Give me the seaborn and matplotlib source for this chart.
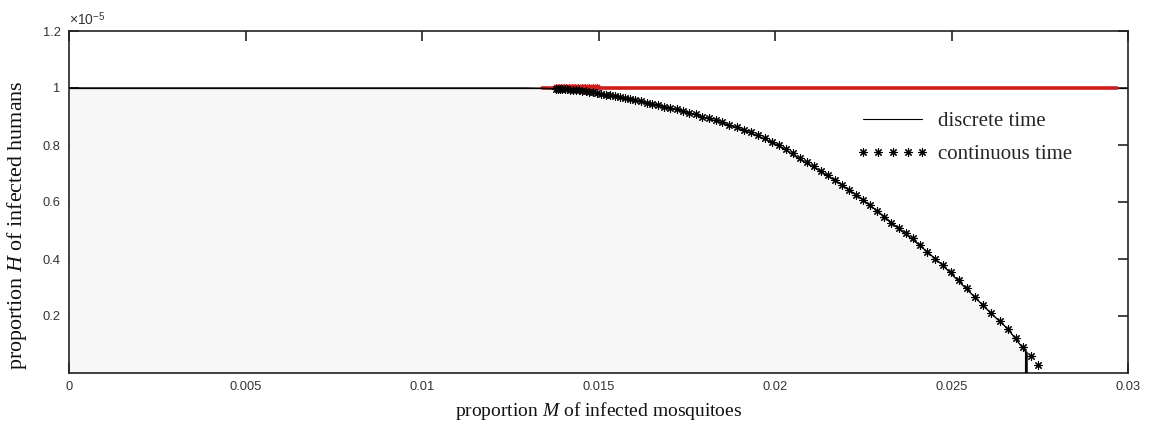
import numpy as np
import pandas as pd
import matplotlib
matplotlib.use("Agg")
import matplotlib.pyplot as plt
from matplotlib.lines import Line2D
import seaborn as sns

# ---------------- data (M in raw units, H in units of 1e-5) ----------------
disc_M = [0.0, 0.0129, 0.0134, 0.0138, 0.0145, 0.0150, 0.0156, 0.0162, 0.0167,
          0.0172, 0.0176, 0.0182, 0.0188, 0.0193, 0.0198, 0.0202, 0.0207, 0.0212,
          0.0218, 0.0224, 0.0230, 0.0235, 0.0241, 0.02475, 0.0254, 0.0261, 0.0266,
          0.0271, 0.0271]
disc_H = [1.0, 1.0, 0.999, 0.997, 0.991, 0.981, 0.967, 0.952, 0.939,
          0.924, 0.912, 0.889, 0.866, 0.843, 0.816, 0.791, 0.750, 0.714,
          0.668, 0.616, 0.558, 0.507, 0.448, 0.378, 0.298, 0.212, 0.154,
          0.075, 0.0]

cont_M = [0.01380, 0.01386, 0.01392, 0.01398, 0.01405, 0.01412, 0.01420, 0.01428,
          0.01436, 0.01445, 0.01454, 0.01464, 0.01474, 0.01485, 0.01496, 0.01508,
          0.01520, 0.01533, 0.01546, 0.01560, 0.01574, 0.01589, 0.01604, 0.01620,
          0.01636, 0.01652, 0.01669, 0.01686, 0.01703, 0.01721, 0.01739, 0.01757,
          0.01775, 0.01794, 0.01813, 0.01832, 0.01851, 0.01871, 0.01891, 0.01911,
          0.01931, 0.01951, 0.01971, 0.01991, 0.02010, 0.02030, 0.02050, 0.02070,
          0.02090, 0.02110, 0.02130, 0.02150, 0.02170, 0.02190, 0.02210, 0.02230,
          0.02250, 0.02270, 0.02290, 0.02310, 0.02330, 0.02350, 0.02370, 0.02390,
          0.02410, 0.02432, 0.02454, 0.02476, 0.02498, 0.02520, 0.02543, 0.02566,
          0.02589, 0.02612, 0.02636, 0.02660, 0.02682, 0.02703, 0.02724, 0.02745]
cont_H = [0.998, 0.998, 0.997, 0.997, 0.996, 0.995, 0.994, 0.993,
          0.993, 0.992, 0.991, 0.989, 0.987, 0.985, 0.983, 0.980,
          0.977, 0.974, 0.971, 0.968, 0.964, 0.961, 0.957, 0.953,
          0.949, 0.945, 0.940, 0.935, 0.930, 0.925, 0.919, 0.914,
          0.908, 0.900, 0.893, 0.886, 0.879, 0.871, 0.863, 0.854,
          0.845, 0.834, 0.823, 0.811, 0.799, 0.786, 0.771, 0.755,
          0.740, 0.725, 0.709, 0.693, 0.677, 0.660, 0.643, 0.626,
          0.608, 0.590, 0.570, 0.549, 0.528, 0.509, 0.492, 0.472,
          0.450, 0.426, 0.401, 0.379, 0.353, 0.327, 0.297, 0.267,
          0.240, 0.212, 0.184, 0.156, 0.122, 0.090, 0.060, 0.028]

red_M = [0.0134, 0.0297]
red_H = [1.0, 1.0]
red_star_M = [0.01380, 0.01387, 0.01394, 0.01401, 0.01408, 0.01416, 0.01424, 0.01433,
              0.01442, 0.01452, 0.01462, 0.01473, 0.01485, 0.01497]
red_star_H = [1.003, 1.003, 1.003, 1.003, 1.003, 1.003, 1.003, 1.003,
              1.003, 1.003, 1.003, 1.003, 1.002, 1.002]

upper_H = 1.0
x_ticks = [0, 0.005, 0.01, 0.015, 0.02, 0.025, 0.03]
x_tick_labels = ["0", "0.005", "0.01", "0.015", "0.02", "0.025", "0.03"]
y_ticks = [0.2, 0.4, 0.6, 0.8, 1.0, 1.2]
y_tick_labels = ["0.2", "0.4", "0.6", "0.8", "1", "1.2"]

# ---------------- figure ----------------
sns.set_theme(style="white")
plt.rcParams["font.family"] = ["Liberation Sans", "DejaVu Sans"]
plt.rcParams["mathtext.fontset"] = "custom"
plt.rcParams["mathtext.rm"] = "Liberation Sans"
plt.rcParams["mathtext.it"] = "Liberation Serif:italic"

fig = plt.figure(figsize=(11.72, 4.38), dpi=100)
ax = fig.add_axes([69 / 1172, 65 / 438, (1128 - 69) / 1172, (373 - 31) / 438])

ax.set_xlim(0, 0.03)
ax.set_ylim(0, 1.2)
ax.set_axisbelow(True)

disc_df = pd.DataFrame({"M": disc_M, "H": disc_H})
cont_df = pd.DataFrame({"M": cont_M, "H": cont_H})

red = "#d01e1e"
star = (8, 2, 0)

# grey region under discrete curve
ax.fill_between(disc_df["M"], 0, disc_df["H"], color="#f7f7f7", zorder=1, linewidth=0)

# upper horizontal line at H = 1
ax.axhline(upper_H, color="black", linewidth=0.9, zorder=2)

# red series
sns.lineplot(x=red_M, y=red_H, ax=ax, color=red, linewidth=2.6,
             sort=False, estimator=None, zorder=3, legend=False)
sns.lineplot(x=red_star_M, y=red_star_H, ax=ax, color=red, linestyle="",
             marker=star, markersize=5, markeredgewidth=0.9,
             markeredgecolor=red, markerfacecolor=red,
             sort=False, estimator=None, zorder=3, legend=False)

# discrete time curve
sns.lineplot(data=disc_df, x="M", y="H", ax=ax, color="black", linewidth=1.0,
             sort=False, estimator=None, zorder=4, legend=False)
ax.plot([disc_M[-2], disc_M[-1]], [disc_H[-2], disc_H[-1]], color="black", lw=1.8, zorder=4)

# continuous time stars
sns.lineplot(data=cont_df, x="M", y="H", ax=ax, color="black", linestyle="",
             marker=star, markersize=6, markeredgewidth=0.8,
             markeredgecolor="black", markerfacecolor="black",
             sort=False, estimator=None, zorder=5, legend=False)

# axes styling (MATLAB-like box)
for s in ax.spines.values():
    s.set_visible(True)
    s.set_color("#222222")
    s.set_linewidth(1.2)
ax.tick_params(axis="both", which="both", direction="in", length=7.5, width=1.2,
               color="#222222", top=True, right=True, bottom=True, left=True,
               labelsize=9.3, labelcolor="#333333", pad=6)
ax.set_xticks(x_ticks)
ax.set_xticklabels(x_tick_labels)
ax.set_yticks(y_ticks)
ax.set_yticklabels(y_tick_labels)

ax.text(0.0, 1.008, r"$\times10^{-5}$", transform=ax.transAxes, fontsize=10,
        color="#333333", ha="left", va="bottom")

serif = ["Liberation Serif", "DejaVu Serif"]
ax.set_xlabel(r"proportion $\it{M}$ of infected mosquitoes", fontsize=14,
              family=serif, color="#111111", labelpad=5)
ax.set_ylabel(r"proportion $\it{H}$ of infected humans", fontsize=15.8,
              family=serif, color="#111111")
ax.yaxis.set_label_coords(-0.038, 0.433)

handles = [Line2D([], [], color="black", linewidth=0.8),
           Line2D([], [], color="black", linestyle="", marker=star,
                  markersize=6, markeredgewidth=0.8, markeredgecolor="black")]
leg = ax.legend(handles, ["discrete time", "continuous time"], loc="upper left",
                bbox_to_anchor=(0.744, 0.765), frameon=False, numpoints=5,
                handlelength=3.44, handletextpad=0.46, labelspacing=0.66,
                borderaxespad=0, borderpad=0,
                prop={"family": serif, "size": 15})

fig.savefig("out.png", dpi=100)
